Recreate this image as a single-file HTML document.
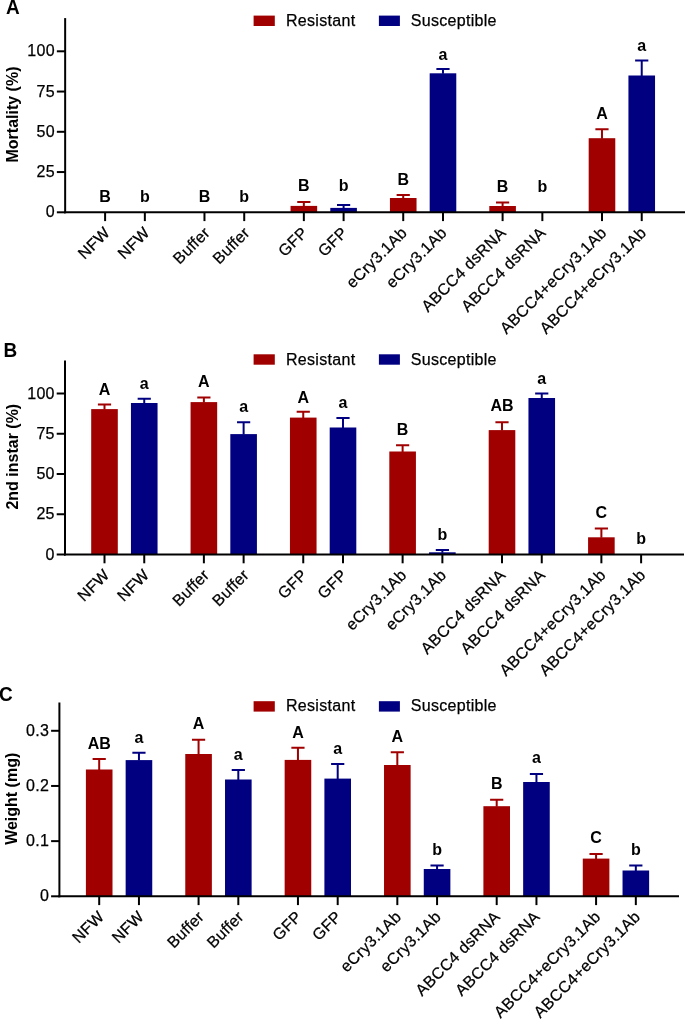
<!DOCTYPE html>
<html><head><meta charset="utf-8"><title>Bar charts</title>
<style>
html,body{margin:0;padding:0;background:#fff;}
body{width:685px;height:1019px;overflow:hidden;}
svg{display:block;font-family:"Liberation Sans", sans-serif;fill:#000;will-change:transform;}
svg text{fill:#000;}
.r{letter-spacing:0.3px;stroke:#000;stroke-width:0.25px;}
</style></head><body>
<svg width="685" height="1019" viewBox="0 0 685 1019">
<rect x="0" y="0" width="685" height="1019" fill="#ffffff"/>
<g><text transform="translate(6,13.6) scale(1,1.07)" font-size="19" font-weight="bold">A</text>
<rect x="253.6" y="15.6" width="21.2" height="10.4" fill="#a00000"/>
<rect x="378.9" y="15.6" width="21" height="10.4" fill="#000080"/>
<text class="r" x="286.0" y="26" font-size="16">Resistant</text>
<text class="r" x="410.8" y="26" font-size="16">Susceptible</text>
<text transform="translate(17.8,114.5) rotate(-90)" text-anchor="middle" font-size="16" font-weight="bold">Mortality (%)</text>
<text x="105.1" y="201.6" text-anchor="middle" font-size="16" font-weight="bold">B</text>
<path d="M105.1 212.3V221.1" stroke="#000" stroke-width="2"/>
<text transform="translate(111,233.7) rotate(-45)" class="r" text-anchor="end" font-size="16">NFW</text>
<text x="144.85" y="201.6" text-anchor="middle" font-size="16" font-weight="bold">b</text>
<path d="M144.85 212.3V221.1" stroke="#000" stroke-width="2"/>
<text transform="translate(150.75,233.7) rotate(-45)" class="r" text-anchor="end" font-size="16">NFW</text>
<text x="204.47" y="201.6" text-anchor="middle" font-size="16" font-weight="bold">B</text>
<path d="M204.47 212.3V221.1" stroke="#000" stroke-width="2"/>
<text transform="translate(210.88,233.7) rotate(-45)" class="r" text-anchor="end" font-size="16">Buffer</text>
<text x="244.22" y="201.6" text-anchor="middle" font-size="16" font-weight="bold">b</text>
<path d="M244.22 212.3V221.1" stroke="#000" stroke-width="2"/>
<text transform="translate(250.62,233.7) rotate(-45)" class="r" text-anchor="end" font-size="16">Buffer</text>
<rect x="290.55" y="205.9" width="26.6" height="6.4" fill="#a00000"/>
<path d="M303.85 206.4V202M297.25 202H310.45" stroke="#a00000" stroke-width="2" fill="none"/>
<text x="303.85" y="191.3" text-anchor="middle" font-size="16" font-weight="bold">B</text>
<path d="M303.85 212.3V221.1" stroke="#000" stroke-width="2"/>
<text transform="translate(308.75,233.7) rotate(-45)" class="r" text-anchor="end" font-size="16">GFP</text>
<rect x="330.3" y="207.9" width="26.6" height="4.4" fill="#000080"/>
<path d="M343.6 208.4V205M337 205H350.2" stroke="#000080" stroke-width="2" fill="none"/>
<text x="343.6" y="191.3" text-anchor="middle" font-size="16" font-weight="bold">b</text>
<path d="M343.6 212.3V221.1" stroke="#000" stroke-width="2"/>
<text transform="translate(348.5,233.7) rotate(-45)" class="r" text-anchor="end" font-size="16">GFP</text>
<rect x="389.93" y="198" width="26.6" height="14.3" fill="#a00000"/>
<path d="M403.23 198.5V195M396.62 195H409.83" stroke="#a00000" stroke-width="2" fill="none"/>
<text x="403.23" y="184.9" text-anchor="middle" font-size="16" font-weight="bold">B</text>
<path d="M403.23 212.3V221.1" stroke="#000" stroke-width="2"/>
<text transform="translate(408.12,233.7) rotate(-45)" class="r" text-anchor="end" font-size="16">eCry3.1Ab</text>
<rect x="429.68" y="73.3" width="26.6" height="139" fill="#000080"/>
<path d="M442.98 73.8V69M436.38 69H449.58" stroke="#000080" stroke-width="2" fill="none"/>
<text x="442.98" y="59.9" text-anchor="middle" font-size="16" font-weight="bold">a</text>
<path d="M442.98 212.3V221.1" stroke="#000" stroke-width="2"/>
<text transform="translate(447.88,233.7) rotate(-45)" class="r" text-anchor="end" font-size="16">eCry3.1Ab</text>
<rect x="489.3" y="206" width="26.6" height="6.3" fill="#a00000"/>
<path d="M502.6 206.5V202.5M496 202.5H509.2" stroke="#a00000" stroke-width="2" fill="none"/>
<text x="502.6" y="192" text-anchor="middle" font-size="16" font-weight="bold">B</text>
<path d="M502.6 212.3V221.1" stroke="#000" stroke-width="2"/>
<text transform="translate(507,233.7) rotate(-45)" class="r" text-anchor="end" font-size="16">ABCC4 dsRNA</text>
<text x="542.35" y="192" text-anchor="middle" font-size="16" font-weight="bold">b</text>
<path d="M542.35 212.3V221.1" stroke="#000" stroke-width="2"/>
<text transform="translate(546.75,233.7) rotate(-45)" class="r" text-anchor="end" font-size="16">ABCC4 dsRNA</text>
<rect x="588.68" y="138.2" width="26.6" height="74.1" fill="#a00000"/>
<path d="M601.98 138.7V129.3M595.38 129.3H608.58" stroke="#a00000" stroke-width="2" fill="none"/>
<text x="601.98" y="118.8" text-anchor="middle" font-size="16" font-weight="bold">A</text>
<path d="M601.98 212.3V221.1" stroke="#000" stroke-width="2"/>
<text transform="translate(607.48,233.7) rotate(-45)" class="r" text-anchor="end" font-size="16">ABCC4+eCry3.1Ab</text>
<rect x="628.43" y="75.5" width="26.6" height="136.8" fill="#000080"/>
<path d="M641.73 76V60.6M635.12 60.6H648.33" stroke="#000080" stroke-width="2" fill="none"/>
<text x="641.73" y="50.8" text-anchor="middle" font-size="16" font-weight="bold">a</text>
<path d="M641.73 212.3V221.1" stroke="#000" stroke-width="2"/>
<text transform="translate(647.23,233.7) rotate(-45)" class="r" text-anchor="end" font-size="16">ABCC4+eCry3.1Ab</text>
<path d="M65.15 18.1V213.3" stroke="#000" stroke-width="2"/>
<path d="M64.15 212.3H685" stroke="#000" stroke-width="2"/>
<path d="M56.85 212.3H65.15" stroke="#000" stroke-width="2"/>
<text class="r" x="54.95" y="217.4" text-anchor="end" font-size="16">0</text>
<path d="M56.85 172.05H65.15" stroke="#000" stroke-width="2"/>
<text class="r" x="54.95" y="177.15" text-anchor="end" font-size="16">25</text>
<path d="M56.85 131.8H65.15" stroke="#000" stroke-width="2"/>
<text class="r" x="54.95" y="136.9" text-anchor="end" font-size="16">50</text>
<path d="M56.85 91.55H65.15" stroke="#000" stroke-width="2"/>
<text class="r" x="54.95" y="96.65" text-anchor="end" font-size="16">75</text>
<path d="M56.85 51.3H65.15" stroke="#000" stroke-width="2"/>
<text class="r" x="54.95" y="56.4" text-anchor="end" font-size="16">100</text></g>
<g><text transform="translate(3.6,356.8) scale(1,1.07)" font-size="19" font-weight="bold">B</text>
<rect x="253.6" y="354.3" width="21.2" height="10.4" fill="#a00000"/>
<rect x="378.9" y="354.3" width="21" height="10.4" fill="#000080"/>
<text class="r" x="286.0" y="364.6" font-size="16">Resistant</text>
<text class="r" x="410.8" y="364.6" font-size="16">Susceptible</text>
<text transform="translate(17.9,456.7) rotate(-90)" text-anchor="middle" font-size="16" font-weight="bold">2nd instar (%)</text>
<rect x="91.2" y="409.1" width="26.6" height="145.4" fill="#a00000"/>
<path d="M104.5 409.6V404.5M97.9 404.5H111.1" stroke="#a00000" stroke-width="2" fill="none"/>
<text x="104.5" y="395.1" text-anchor="middle" font-size="16" font-weight="bold">A</text>
<path d="M104.5 554.5V563.3" stroke="#000" stroke-width="2"/>
<text transform="translate(110.4,575.9) rotate(-45)" class="r" text-anchor="end" font-size="16">NFW</text>
<rect x="130.95" y="403" width="26.6" height="151.5" fill="#000080"/>
<path d="M144.25 403.5V398.8M137.65 398.8H150.85" stroke="#000080" stroke-width="2" fill="none"/>
<text x="144.25" y="388.7" text-anchor="middle" font-size="16" font-weight="bold">a</text>
<path d="M144.25 554.5V563.3" stroke="#000" stroke-width="2"/>
<text transform="translate(150.15,575.9) rotate(-45)" class="r" text-anchor="end" font-size="16">NFW</text>
<rect x="190.57" y="402.1" width="26.6" height="152.4" fill="#a00000"/>
<path d="M203.88 402.6V397.5M197.28 397.5H210.47" stroke="#a00000" stroke-width="2" fill="none"/>
<text x="203.88" y="387.2" text-anchor="middle" font-size="16" font-weight="bold">A</text>
<path d="M203.88 554.5V563.3" stroke="#000" stroke-width="2"/>
<text transform="translate(210.28,575.9) rotate(-45)" class="r" text-anchor="end" font-size="16">Buffer</text>
<rect x="230.32" y="434.1" width="26.6" height="120.4" fill="#000080"/>
<path d="M243.62 434.6V422.2M237.03 422.2H250.22" stroke="#000080" stroke-width="2" fill="none"/>
<text x="243.62" y="412.3" text-anchor="middle" font-size="16" font-weight="bold">a</text>
<path d="M243.62 554.5V563.3" stroke="#000" stroke-width="2"/>
<text transform="translate(250.03,575.9) rotate(-45)" class="r" text-anchor="end" font-size="16">Buffer</text>
<rect x="289.95" y="417.6" width="26.6" height="136.9" fill="#a00000"/>
<path d="M303.25 418.1V411.7M296.65 411.7H309.85" stroke="#a00000" stroke-width="2" fill="none"/>
<text x="303.25" y="402.5" text-anchor="middle" font-size="16" font-weight="bold">A</text>
<path d="M303.25 554.5V563.3" stroke="#000" stroke-width="2"/>
<text transform="translate(308.15,575.9) rotate(-45)" class="r" text-anchor="end" font-size="16">GFP</text>
<rect x="329.7" y="427.5" width="26.6" height="127" fill="#000080"/>
<path d="M343 428V418.1M336.4 418.1H349.6" stroke="#000080" stroke-width="2" fill="none"/>
<text x="343" y="408.3" text-anchor="middle" font-size="16" font-weight="bold">a</text>
<path d="M343 554.5V563.3" stroke="#000" stroke-width="2"/>
<text transform="translate(347.9,575.9) rotate(-45)" class="r" text-anchor="end" font-size="16">GFP</text>
<rect x="389.32" y="451.5" width="26.6" height="103" fill="#a00000"/>
<path d="M402.62 452V445.3M396.02 445.3H409.23" stroke="#a00000" stroke-width="2" fill="none"/>
<text x="402.62" y="434.6" text-anchor="middle" font-size="16" font-weight="bold">B</text>
<path d="M402.62 554.5V563.3" stroke="#000" stroke-width="2"/>
<text transform="translate(407.52,575.9) rotate(-45)" class="r" text-anchor="end" font-size="16">eCry3.1Ab</text>
<rect x="429.07" y="552.3" width="26.6" height="2.2" fill="#000080"/>
<path d="M442.38 552.8V550.1M435.77 550.1H448.98" stroke="#000080" stroke-width="2" fill="none"/>
<text x="442.38" y="539.9" text-anchor="middle" font-size="16" font-weight="bold">b</text>
<path d="M442.38 554.5V563.3" stroke="#000" stroke-width="2"/>
<text transform="translate(447.27,575.9) rotate(-45)" class="r" text-anchor="end" font-size="16">eCry3.1Ab</text>
<rect x="488.7" y="430.1" width="26.6" height="124.4" fill="#a00000"/>
<path d="M502 430.6V422.2M495.4 422.2H508.6" stroke="#a00000" stroke-width="2" fill="none"/>
<text x="502" y="411.4" text-anchor="middle" font-size="16" font-weight="bold">AB</text>
<path d="M502 554.5V563.3" stroke="#000" stroke-width="2"/>
<text transform="translate(506.4,575.9) rotate(-45)" class="r" text-anchor="end" font-size="16">ABCC4 dsRNA</text>
<rect x="528.45" y="398" width="26.6" height="156.5" fill="#000080"/>
<path d="M541.75 398.5V393.6M535.15 393.6H548.35" stroke="#000080" stroke-width="2" fill="none"/>
<text x="541.75" y="383.9" text-anchor="middle" font-size="16" font-weight="bold">a</text>
<path d="M541.75 554.5V563.3" stroke="#000" stroke-width="2"/>
<text transform="translate(546.15,575.9) rotate(-45)" class="r" text-anchor="end" font-size="16">ABCC4 dsRNA</text>
<rect x="588.08" y="537.3" width="26.6" height="17.2" fill="#a00000"/>
<path d="M601.38 537.8V528.5M594.77 528.5H607.98" stroke="#a00000" stroke-width="2" fill="none"/>
<text x="601.38" y="517.8" text-anchor="middle" font-size="16" font-weight="bold">C</text>
<path d="M601.38 554.5V563.3" stroke="#000" stroke-width="2"/>
<text transform="translate(606.88,575.9) rotate(-45)" class="r" text-anchor="end" font-size="16">ABCC4+eCry3.1Ab</text>
<text x="641.12" y="544.3" text-anchor="middle" font-size="16" font-weight="bold">b</text>
<path d="M641.12 554.5V563.3" stroke="#000" stroke-width="2"/>
<text transform="translate(646.62,575.9) rotate(-45)" class="r" text-anchor="end" font-size="16">ABCC4+eCry3.1Ab</text>
<path d="M65 360.5V555.5" stroke="#000" stroke-width="2"/>
<path d="M64 554.5H684" stroke="#000" stroke-width="2"/>
<path d="M56.7 554.5H65" stroke="#000" stroke-width="2"/>
<text class="r" x="54.8" y="559.6" text-anchor="end" font-size="16">0</text>
<path d="M56.7 514.25H65" stroke="#000" stroke-width="2"/>
<text class="r" x="54.8" y="519.35" text-anchor="end" font-size="16">25</text>
<path d="M56.7 474H65" stroke="#000" stroke-width="2"/>
<text class="r" x="54.8" y="479.1" text-anchor="end" font-size="16">50</text>
<path d="M56.7 433.75H65" stroke="#000" stroke-width="2"/>
<text class="r" x="54.8" y="438.85" text-anchor="end" font-size="16">75</text>
<path d="M56.7 393.5H65" stroke="#000" stroke-width="2"/>
<text class="r" x="54.8" y="398.6" text-anchor="end" font-size="16">100</text></g>
<g><text transform="translate(-1,700.7) scale(1,1.07)" font-size="19" font-weight="bold">C</text>
<rect x="253.6" y="701.2" width="21.2" height="10.4" fill="#a00000"/>
<rect x="378.9" y="701.2" width="21" height="10.4" fill="#000080"/>
<text class="r" x="286.0" y="711.4" font-size="16">Resistant</text>
<text class="r" x="410.8" y="711.4" font-size="16">Susceptible</text>
<text transform="translate(16.5,798.8) rotate(-90)" text-anchor="middle" font-size="16" font-weight="bold">Weight (mg)</text>
<rect x="85.9" y="769.5" width="26.6" height="126.8" fill="#a00000"/>
<path d="M99.2 770V759M92.6 759H105.8" stroke="#a00000" stroke-width="2" fill="none"/>
<text x="99.2" y="748.5" text-anchor="middle" font-size="16" font-weight="bold">AB</text>
<path d="M99.2 896.3V905.1" stroke="#000" stroke-width="2"/>
<text transform="translate(105.1,917.7) rotate(-45)" class="r" text-anchor="end" font-size="16">NFW</text>
<rect x="125.65" y="760.1" width="26.6" height="136.2" fill="#000080"/>
<path d="M138.95 760.6V752.8M132.35 752.8H145.55" stroke="#000080" stroke-width="2" fill="none"/>
<text x="138.95" y="742.8" text-anchor="middle" font-size="16" font-weight="bold">a</text>
<path d="M138.95 896.3V905.1" stroke="#000" stroke-width="2"/>
<text transform="translate(144.85,917.7) rotate(-45)" class="r" text-anchor="end" font-size="16">NFW</text>
<rect x="185.27" y="754" width="26.6" height="142.3" fill="#a00000"/>
<path d="M198.57 754.5V739.8M191.97 739.8H205.17" stroke="#a00000" stroke-width="2" fill="none"/>
<text x="198.57" y="729.3" text-anchor="middle" font-size="16" font-weight="bold">A</text>
<path d="M198.57 896.3V905.1" stroke="#000" stroke-width="2"/>
<text transform="translate(204.97,917.7) rotate(-45)" class="r" text-anchor="end" font-size="16">Buffer</text>
<rect x="225.02" y="779.5" width="26.6" height="116.8" fill="#000080"/>
<path d="M238.32 780V770.1M231.72 770.1H244.92" stroke="#000080" stroke-width="2" fill="none"/>
<text x="238.32" y="759.6" text-anchor="middle" font-size="16" font-weight="bold">a</text>
<path d="M238.32 896.3V905.1" stroke="#000" stroke-width="2"/>
<text transform="translate(244.72,917.7) rotate(-45)" class="r" text-anchor="end" font-size="16">Buffer</text>
<rect x="284.65" y="759.9" width="26.6" height="136.4" fill="#a00000"/>
<path d="M297.95 760.4V747.8M291.35 747.8H304.55" stroke="#a00000" stroke-width="2" fill="none"/>
<text x="297.95" y="738.1" text-anchor="middle" font-size="16" font-weight="bold">A</text>
<path d="M297.95 896.3V905.1" stroke="#000" stroke-width="2"/>
<text transform="translate(302.85,917.7) rotate(-45)" class="r" text-anchor="end" font-size="16">GFP</text>
<rect x="324.4" y="778.6" width="26.6" height="117.7" fill="#000080"/>
<path d="M337.7 779.1V764.1M331.1 764.1H344.3" stroke="#000080" stroke-width="2" fill="none"/>
<text x="337.7" y="753.9" text-anchor="middle" font-size="16" font-weight="bold">a</text>
<path d="M337.7 896.3V905.1" stroke="#000" stroke-width="2"/>
<text transform="translate(342.6,917.7) rotate(-45)" class="r" text-anchor="end" font-size="16">GFP</text>
<rect x="384.02" y="765" width="26.6" height="131.3" fill="#a00000"/>
<path d="M397.32 765.5V752.2M390.72 752.2H403.93" stroke="#a00000" stroke-width="2" fill="none"/>
<text x="397.32" y="742" text-anchor="middle" font-size="16" font-weight="bold">A</text>
<path d="M397.32 896.3V905.1" stroke="#000" stroke-width="2"/>
<text transform="translate(402.22,917.7) rotate(-45)" class="r" text-anchor="end" font-size="16">eCry3.1Ab</text>
<rect x="423.77" y="869" width="26.6" height="27.3" fill="#000080"/>
<path d="M437.07 869.5V865.4M430.47 865.4H443.68" stroke="#000080" stroke-width="2" fill="none"/>
<text x="437.07" y="854.9" text-anchor="middle" font-size="16" font-weight="bold">b</text>
<path d="M437.07 896.3V905.1" stroke="#000" stroke-width="2"/>
<text transform="translate(441.97,917.7) rotate(-45)" class="r" text-anchor="end" font-size="16">eCry3.1Ab</text>
<rect x="483.4" y="806.2" width="26.6" height="90.1" fill="#a00000"/>
<path d="M496.7 806.7V799.8M490.1 799.8H503.3" stroke="#a00000" stroke-width="2" fill="none"/>
<text x="496.7" y="788.5" text-anchor="middle" font-size="16" font-weight="bold">B</text>
<path d="M496.7 896.3V905.1" stroke="#000" stroke-width="2"/>
<text transform="translate(501.1,917.7) rotate(-45)" class="r" text-anchor="end" font-size="16">ABCC4 dsRNA</text>
<rect x="523.15" y="782" width="26.6" height="114.3" fill="#000080"/>
<path d="M536.45 782.5V773.9M529.85 773.9H543.05" stroke="#000080" stroke-width="2" fill="none"/>
<text x="536.45" y="762.5" text-anchor="middle" font-size="16" font-weight="bold">a</text>
<path d="M536.45 896.3V905.1" stroke="#000" stroke-width="2"/>
<text transform="translate(540.85,917.7) rotate(-45)" class="r" text-anchor="end" font-size="16">ABCC4 dsRNA</text>
<rect x="582.78" y="858.6" width="26.6" height="37.7" fill="#a00000"/>
<path d="M596.08 859.1V853.9M589.48 853.9H602.68" stroke="#a00000" stroke-width="2" fill="none"/>
<text x="596.08" y="843.3" text-anchor="middle" font-size="16" font-weight="bold">C</text>
<path d="M596.08 896.3V905.1" stroke="#000" stroke-width="2"/>
<text transform="translate(601.58,917.7) rotate(-45)" class="r" text-anchor="end" font-size="16">ABCC4+eCry3.1Ab</text>
<rect x="622.53" y="870.5" width="26.6" height="25.8" fill="#000080"/>
<path d="M635.83 871V865.6M629.23 865.6H642.43" stroke="#000080" stroke-width="2" fill="none"/>
<text x="635.83" y="854.9" text-anchor="middle" font-size="16" font-weight="bold">b</text>
<path d="M635.83 896.3V905.1" stroke="#000" stroke-width="2"/>
<text transform="translate(641.33,917.7) rotate(-45)" class="r" text-anchor="end" font-size="16">ABCC4+eCry3.1Ab</text>
<path d="M59.4 702.5V897.3" stroke="#000" stroke-width="2"/>
<path d="M58.4 896.3H679" stroke="#000" stroke-width="2"/>
<path d="M51.1 896.3H59.4" stroke="#000" stroke-width="2"/>
<text class="r" x="49.2" y="901.4" text-anchor="end" font-size="16">0</text>
<path d="M51.1 841.13H59.4" stroke="#000" stroke-width="2"/>
<text class="r" x="49.2" y="846.23" text-anchor="end" font-size="16">0.1</text>
<path d="M51.1 785.96H59.4" stroke="#000" stroke-width="2"/>
<text class="r" x="49.2" y="791.06" text-anchor="end" font-size="16">0.2</text>
<path d="M51.1 730.79H59.4" stroke="#000" stroke-width="2"/>
<text class="r" x="49.2" y="735.89" text-anchor="end" font-size="16">0.3</text></g>
</svg>
</body></html>
